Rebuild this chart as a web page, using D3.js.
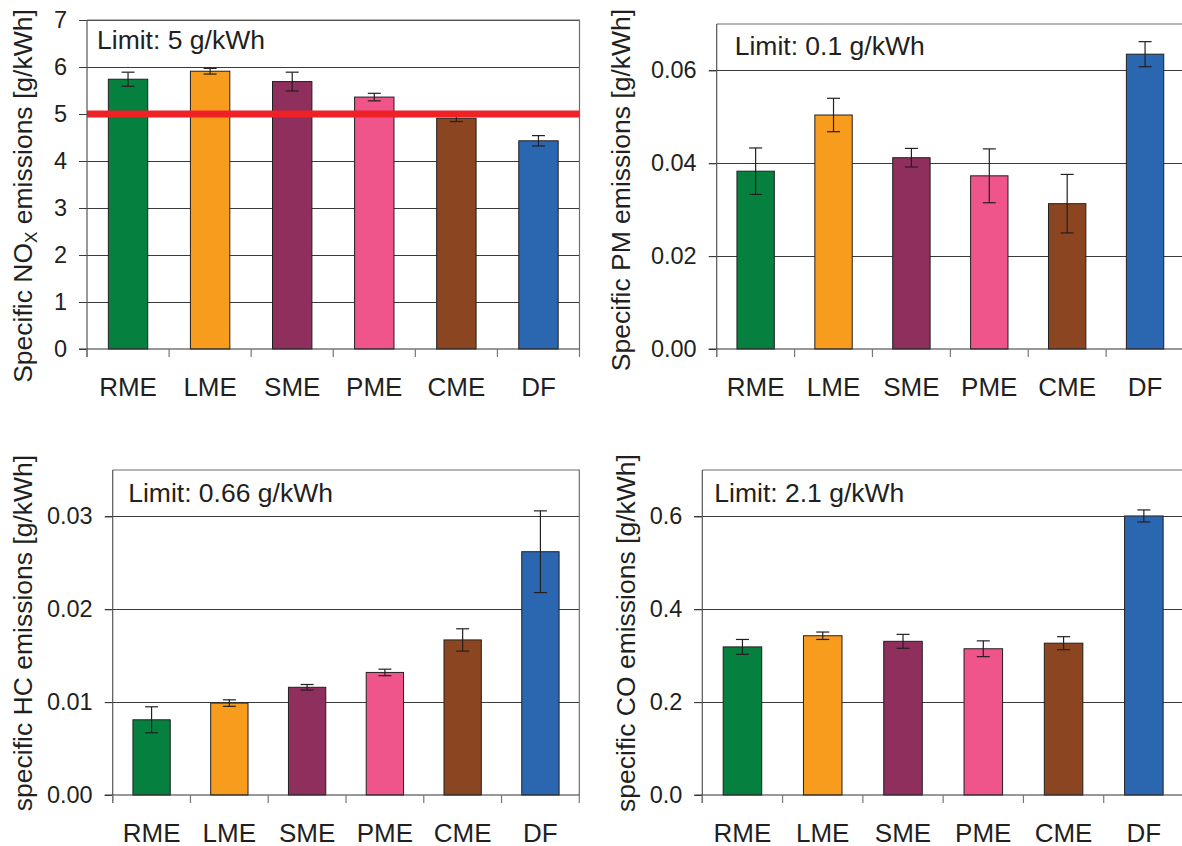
<!DOCTYPE html>
<html>
<head>
<meta charset="utf-8">
<script src="https://cdn.jsdelivr.net/npm/d3@7"></script>
<style>
  body { margin: 0; background: #fff; }
  svg { display: block; font-family: "Liberation Sans", Arial, sans-serif; }
  text { fill: #231f20; }
</style>
</head>
<body>
<svg id="chart"></svg>
<script>
// fuels on the x axis
var categories = ["RME", "LME", "SME", "PME", "CME", "DF"]
var barColors = ["#06803f", "#f89c1e", "#8e2f5e", "#ef558b", "#8b4621", "#2b67b1"]

// NOx
var noxValues = [5.74, 5.91, 5.69, 5.36, 4.91, 4.43]
var noxErrors = [0.15, 0.06, 0.20, 0.08, 0.07, 0.11]
var noxTicks = [0, 1, 2, 3, 4, 5, 6, 7]
var noxLimit = 5

// PM
var pmValues = [0.0383, 0.0504, 0.0412, 0.0373, 0.0313, 0.0635]
var pmErrors = [0.0050, 0.0036, 0.0020, 0.0058, 0.0063, 0.0027]
var pmTicks = [0, 0.02, 0.04, 0.06]

// HC
var hcValues = [0.0081, 0.0099, 0.0116, 0.0132, 0.0167, 0.0262]
var hcErrors = [0.0014, 0.00035, 0.0003, 0.00035, 0.0012, 0.0044]
var hcTicks = [0, 0.01, 0.02, 0.03]

// CO
var coValues = [0.319, 0.343, 0.331, 0.315, 0.327, 0.601]
var coErrors = [0.016, 0.008, 0.015, 0.017, 0.014, 0.013]
var coTicks = [0, 0.2, 0.4, 0.6]

var width = 1182, height = 846

var svg = d3.select("#chart")
    .attr("width", width)
    .attr("height", height)

svg.append("rect").attr("width", width).attr("height", height).attr("fill", "#fff")

var panels = [
    {values: noxValues, errors: noxErrors, ticks: noxTicks, max: 7, fmt: d3.format("d"),
     limitText: "Limit: 5 g/kWh", limitLine: noxLimit, title: ["Specific NO", "X", " emissions [g/kWh]"],
     left: 87, right: 579.5, top: 20, bottom: 349, titleX: 32, titleY: 196, noteX: 10, noteY: 29},
    {values: pmValues, errors: pmErrors, ticks: pmTicks, max: 0.07, fmt: d3.format(".2f"),
     limitText: "Limit: 0.1 g/kWh", title: ["Specific PM emissions [g/kWh]"],
     left: 716.7, right: 1184, top: 24, bottom: 349, titleX: 630, titleY: 190, noteX: 18, noteY: 31},
    {values: hcValues, errors: hcErrors, ticks: hcTicks, max: 0.035, fmt: d3.format(".2f"),
     limitText: "Limit: 0.66 g/kWh", title: ["specific HC emissions [g/kWh]"],
     left: 112.7, right: 579.3, top: 470, bottom: 795, titleX: 32, titleY: 633, noteX: 15.5, noteY: 32},
    {values: coValues, errors: coErrors, ticks: coTicks, max: 0.7, fmt: d3.format(".1f"),
     limitText: "Limit: 2.1 g/kWh", title: ["specific CO emissions [g/kWh]"],
     left: 702.3, right: 1184, top: 470, bottom: 795, titleX: 635, titleY: 633, noteX: 12, noteY: 32}
]

panels.forEach(function(p){
    var g = svg.append("g")

    var xScale = d3.scaleBand()
        .domain(categories)
        .range([p.left, p.right])
        .padding(0)

    var yScale = d3.scaleLinear()
        .domain([0, p.max])
        .range([p.bottom, p.top])

    var barW = xScale.bandwidth() * 0.48

    // gridlines
    g.selectAll(".grid")
        .data(p.ticks.filter(function(t){ return t > 0 }))
        .enter()
        .append("line")
        .attr("x1", p.left - 8)
        .attr("x2", p.right)
        .attr("y1", function(d){ return yScale(d) })
        .attr("y2", function(d){ return yScale(d) })
        .attr("stroke", "#3a3a3a")
        .attr("stroke-width", 1)
        .attr("shape-rendering", "crispEdges")

    // frame: top and right
    g.append("path")
        .attr("d", "M" + p.left + "," + yScale(p.max) + "H" + p.right + "V" + p.bottom)
        .attr("fill", "none")
        .attr("stroke", "#6d6d6d")
        .attr("stroke-width", 1.2)

    // bars
    g.selectAll(".bar")
        .data(p.values)
        .enter()
        .append("rect")
        .attr("x", function(d, i){ return xScale(categories[i]) + (xScale.bandwidth() - barW) / 2 })
        .attr("y", function(d){ return yScale(d) })
        .attr("width", barW)
        .attr("height", function(d){ return p.bottom - yScale(d) })
        .attr("fill", function(d, i){ return barColors[i] })
        .attr("stroke", "#231f20")
        .attr("stroke-width", 1)

    // error bars
    var cx = function(i){ return xScale(categories[i]) + xScale.bandwidth() / 2 }
    var eb = g.selectAll(".err")
        .data(p.values)
        .enter()
        .append("g")
        .attr("stroke", "#231f20")
        .attr("stroke-width", 1.2)
    eb.append("line")
        .attr("x1", function(d, i){ return cx(i) })
        .attr("x2", function(d, i){ return cx(i) })
        .attr("y1", function(d, i){ return yScale(d + p.errors[i]) })
        .attr("y2", function(d, i){ return yScale(d - p.errors[i]) })
    eb.append("line")
        .attr("x1", function(d, i){ return cx(i) - 6.5 })
        .attr("x2", function(d, i){ return cx(i) + 6.5 })
        .attr("y1", function(d, i){ return yScale(d + p.errors[i]) })
        .attr("y2", function(d, i){ return yScale(d + p.errors[i]) })
    eb.append("line")
        .attr("x1", function(d, i){ return cx(i) - 6.5 })
        .attr("x2", function(d, i){ return cx(i) + 6.5 })
        .attr("y1", function(d, i){ return yScale(d - p.errors[i]) })
        .attr("y2", function(d, i){ return yScale(d - p.errors[i]) })

    // emission limit line
    if (p.limitLine !== undefined) {
        g.append("line")
            .attr("x1", p.left)
            .attr("x2", p.right)
            .attr("y1", yScale(p.limitLine))
            .attr("y2", yScale(p.limitLine))
            .attr("stroke", "#ee2127")
            .attr("stroke-width", 7)
    }

    // y axis
    var yAxis = d3.axisLeft(yScale)
        .tickValues(p.ticks)
        .tickFormat(p.fmt)
        .tickSize(8)
        .tickPadding(12)
    var ya = g.append("g")
        .attr("transform", "translate(" + p.left + ",0)")
        .call(yAxis)
    ya.select(".domain").remove()
    ya.selectAll("line").attr("stroke", "#3a3a3a")
    ya.selectAll("text")
        .attr("font-size", 23.5)
        .attr("fill", "#231f20")

    // left axis line and bottom axis line
    g.append("line")
        .attr("x1", p.left).attr("x2", p.left)
        .attr("y1", yScale(p.max)).attr("y2", p.bottom + 8)
        .attr("stroke", "#555").attr("stroke-width", 1.2)
    g.append("line")
        .attr("x1", p.left - 8).attr("x2", p.right)
        .attr("y1", p.bottom).attr("y2", p.bottom)
        .attr("stroke", "#333").attr("stroke-width", 1.2)

    // x ticks at category boundaries
    var bounds = categories.map(function(c){ return xScale(c) }).concat([p.right])
    g.selectAll(".xt")
        .data(bounds)
        .enter()
        .append("line")
        .attr("x1", function(d){ return d })
        .attr("x2", function(d){ return d })
        .attr("y1", p.bottom)
        .attr("y2", p.bottom + 8)
        .attr("stroke", "#777")
        .attr("stroke-width", 1.2)

    var xAxis = d3.axisBottom(xScale).tickSize(0).tickPadding(0)
    var xa = g.append("g")
        .attr("transform", "translate(0," + p.bottom + ")")
        .call(xAxis)
    xa.select(".domain").remove()
    xa.selectAll("text")
        .attr("font-size", 26)
        .attr("dy", null)
        .attr("y", 46.5)
        .attr("fill", "#231f20")

    // limit note
    g.append("text")
        .attr("x", p.left + p.noteX)
        .attr("y", yScale(p.max) + p.noteY)
        .attr("font-size", 26.5)
        .text(p.limitText)

    // y title
    var t = g.append("text")
        .attr("transform", "translate(" + p.titleX + "," + p.titleY + ") rotate(-90)")
        .attr("text-anchor", "middle")
        .attr("font-size", 26.5)
    t.append("tspan").text(p.title[0])
    if (p.title.length > 1) {
        t.append("tspan").attr("font-size", 17).attr("dy", 5).text(p.title[1])
        t.append("tspan").attr("dy", -5).text(p.title[2])
    }
})
</script>
</body>
</html>
